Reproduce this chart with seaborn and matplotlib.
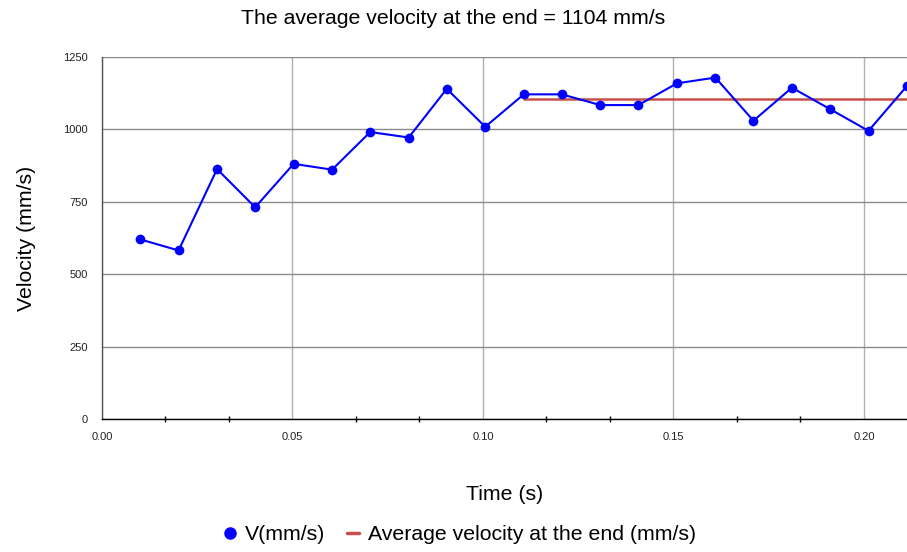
import numpy as np
import pandas as pd
import seaborn as sns
import matplotlib
matplotlib.use("Agg")
import matplotlib.pyplot as plt
from matplotlib.lines import Line2D
from matplotlib.ticker import MultipleLocator

time_s = [0.0101, 0.0201, 0.0302, 0.0402, 0.0503, 0.0604, 0.0704, 0.0805,
          0.0905, 0.1006, 0.1107, 0.1207, 0.1308, 0.1408, 0.1509, 0.1610,
          0.1710, 0.1811, 0.1911, 0.2012, 0.2113]
velocity = [620, 582, 863, 731, 881, 861, 991, 972, 1140, 1009, 1121, 1121,
            1084, 1084, 1159, 1179, 1030, 1144, 1070, 995, 1150]
avg_value = 1104
avg_start_index = 10

x_ticks = [0.00, 0.05, 0.10, 0.15, 0.20]
x_tick_labels = ["0.00", "0.05", "0.10", "0.15", "0.20"]
y_ticks = [0, 250, 500, 750, 1000, 1250]

sns.set_theme(style="white")
plt.rcParams['font.family'] = ['Liberation Sans', 'DejaVu Sans']
plt.rcParams['text.color'] = 'black'
plt.rcParams['axes.labelcolor'] = 'black'

df = pd.DataFrame({"t": time_s, "v": velocity})
avg_df = pd.DataFrame({"t": [time_s[avg_start_index], time_s[-1]],
                       "v": [avg_value, avg_value]})

fig = plt.figure(figsize=(9.07, 5.52), dpi=100)
ax = fig.add_axes([102/907, 1 - 419/552, (907-102)/907, (419-57)/552])

blue = "#0000FF"
red = "#C8504A"

sns.lineplot(data=avg_df, x="t", y="v", ax=ax, color=red, linewidth=1.8,
             zorder=3, clip_on=False)
sns.lineplot(data=df, x="t", y="v", ax=ax, color=blue, linewidth=1.5,
             marker="o", markersize=7, markeredgewidth=0, zorder=4)

ax.set_xlim(0, time_s[-1])
ax.set_ylim(0, 1250)
ax.set_xticks(x_ticks)
ax.set_xticklabels(x_tick_labels)
ax.xaxis.set_minor_locator(MultipleLocator(0.05/3))
ax.set_yticks(y_ticks)

ax.grid(axis="y", color="#8a8a8a", linewidth=1.0)
ax.grid(axis="x", which="major", color="#b0b0b0", linewidth=1.0)
ax.set_axisbelow(True)

for s in ["top", "right"]:
    ax.spines[s].set_visible(False)
ax.spines["left"].set_color("#555555")
ax.spines["left"].set_linewidth(1.0)
ax.spines["bottom"].set_color("black")
ax.spines["bottom"].set_linewidth(1.0)

ax.tick_params(axis="x", which="major", direction="inout", length=6,
               width=1, colors="black", labelsize=8, labelcolor="#222222", pad=6)
ax.tick_params(axis="x", which="minor", direction="inout", length=5,
               width=1, colors="black", bottom=True)
ax.tick_params(axis="y", which="major", direction="out", length=4,
               width=1, colors="#555555", labelsize=8, labelcolor="#222222", pad=6)

ax.set_xlabel("Time (s)", fontsize=15.3, labelpad=31)
ax.set_ylabel("Velocity (mm/s)", fontsize=15.3, labelpad=20)
fig.text(0.5, 1 - 18/552, "The average velocity at the end = 1104 mm/s",
         ha="center", va="center", fontsize=15.3)

handles = [Line2D([], [], color=blue, marker="o", linestyle="None", markersize=8),
           Line2D([], [], color=red, linewidth=2.5)]
fig.legend(handles, ["V(mm/s)", "Average velocity at the end (mm/s)"],
           loc="center", bbox_to_anchor=(460/907, 1 - 535/552), ncol=2,
           frameon=False, fontsize=15.3, handlelength=0.6, handletextpad=0.4,
           columnspacing=1.0)

fig.savefig("out.png", dpi=100)
